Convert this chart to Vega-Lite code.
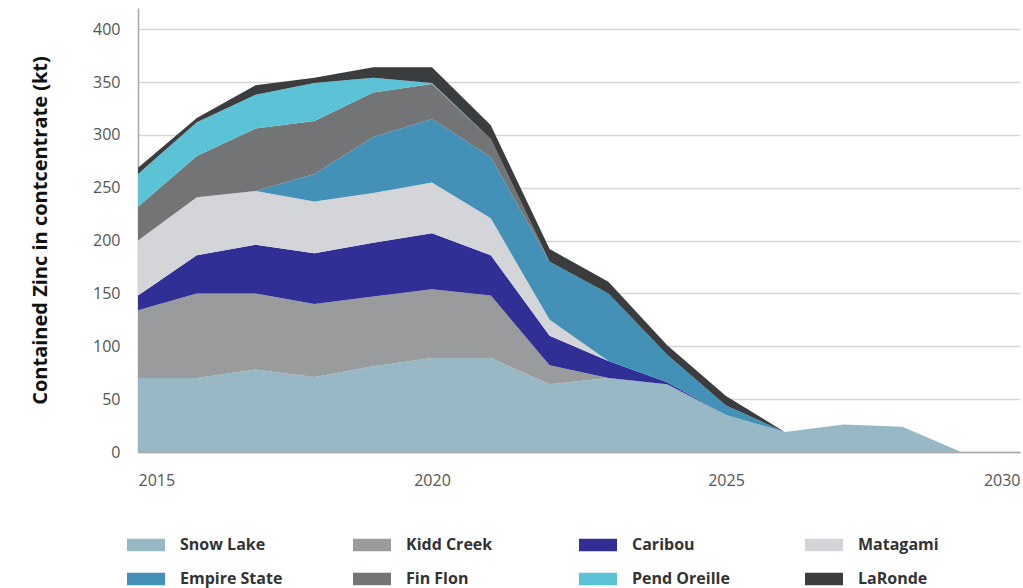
{
  "$schema": "https://vega.github.io/schema/vega-lite/v6.json",
  "width": 882,
  "height": 444,
  "autosize": "none",
  "padding": {"left": 138, "top": 8, "right": 3, "bottom": 136},
  "background": "white",
  "data": {
    "values": [
      {"mine": "Snow Lake", "rank": 1, "year": 2015, "kt": 70},
      {"mine": "Snow Lake", "rank": 1, "year": 2016, "kt": 70},
      {"mine": "Snow Lake", "rank": 1, "year": 2017, "kt": 78},
      {"mine": "Snow Lake", "rank": 1, "year": 2018, "kt": 71},
      {"mine": "Snow Lake", "rank": 1, "year": 2019, "kt": 81},
      {"mine": "Snow Lake", "rank": 1, "year": 2020, "kt": 89},
      {"mine": "Snow Lake", "rank": 1, "year": 2021, "kt": 89},
      {"mine": "Snow Lake", "rank": 1, "year": 2022, "kt": 64},
      {"mine": "Snow Lake", "rank": 1, "year": 2023, "kt": 70},
      {"mine": "Snow Lake", "rank": 1, "year": 2024, "kt": 64},
      {"mine": "Snow Lake", "rank": 1, "year": 2025, "kt": 35},
      {"mine": "Snow Lake", "rank": 1, "year": 2026, "kt": 19},
      {"mine": "Snow Lake", "rank": 1, "year": 2027, "kt": 26},
      {"mine": "Snow Lake", "rank": 1, "year": 2028, "kt": 24},
      {"mine": "Snow Lake", "rank": 1, "year": 2029, "kt": 0},
      {"mine": "Snow Lake", "rank": 1, "year": 2030, "kt": 0},

      {"mine": "Kidd Creek", "rank": 2, "year": 2015, "kt": 64},
      {"mine": "Kidd Creek", "rank": 2, "year": 2016, "kt": 80},
      {"mine": "Kidd Creek", "rank": 2, "year": 2017, "kt": 72},
      {"mine": "Kidd Creek", "rank": 2, "year": 2018, "kt": 69},
      {"mine": "Kidd Creek", "rank": 2, "year": 2019, "kt": 66},
      {"mine": "Kidd Creek", "rank": 2, "year": 2020, "kt": 65},
      {"mine": "Kidd Creek", "rank": 2, "year": 2021, "kt": 59},
      {"mine": "Kidd Creek", "rank": 2, "year": 2022, "kt": 18},
      {"mine": "Kidd Creek", "rank": 2, "year": 2023, "kt": 0},
      {"mine": "Kidd Creek", "rank": 2, "year": 2024, "kt": 0},
      {"mine": "Kidd Creek", "rank": 2, "year": 2025, "kt": 0},
      {"mine": "Kidd Creek", "rank": 2, "year": 2026, "kt": 0},
      {"mine": "Kidd Creek", "rank": 2, "year": 2027, "kt": 0},
      {"mine": "Kidd Creek", "rank": 2, "year": 2028, "kt": 0},
      {"mine": "Kidd Creek", "rank": 2, "year": 2029, "kt": 0},
      {"mine": "Kidd Creek", "rank": 2, "year": 2030, "kt": 0},

      {"mine": "Caribou", "rank": 3, "year": 2015, "kt": 14},
      {"mine": "Caribou", "rank": 3, "year": 2016, "kt": 36},
      {"mine": "Caribou", "rank": 3, "year": 2017, "kt": 46},
      {"mine": "Caribou", "rank": 3, "year": 2018, "kt": 48},
      {"mine": "Caribou", "rank": 3, "year": 2019, "kt": 51},
      {"mine": "Caribou", "rank": 3, "year": 2020, "kt": 53},
      {"mine": "Caribou", "rank": 3, "year": 2021, "kt": 38},
      {"mine": "Caribou", "rank": 3, "year": 2022, "kt": 28},
      {"mine": "Caribou", "rank": 3, "year": 2023, "kt": 16},
      {"mine": "Caribou", "rank": 3, "year": 2024, "kt": 2},
      {"mine": "Caribou", "rank": 3, "year": 2025, "kt": 0},
      {"mine": "Caribou", "rank": 3, "year": 2026, "kt": 0},
      {"mine": "Caribou", "rank": 3, "year": 2027, "kt": 0},
      {"mine": "Caribou", "rank": 3, "year": 2028, "kt": 0},
      {"mine": "Caribou", "rank": 3, "year": 2029, "kt": 0},
      {"mine": "Caribou", "rank": 3, "year": 2030, "kt": 0},

      {"mine": "Matagami", "rank": 4, "year": 2015, "kt": 52},
      {"mine": "Matagami", "rank": 4, "year": 2016, "kt": 55},
      {"mine": "Matagami", "rank": 4, "year": 2017, "kt": 51},
      {"mine": "Matagami", "rank": 4, "year": 2018, "kt": 49},
      {"mine": "Matagami", "rank": 4, "year": 2019, "kt": 47},
      {"mine": "Matagami", "rank": 4, "year": 2020, "kt": 48},
      {"mine": "Matagami", "rank": 4, "year": 2021, "kt": 35},
      {"mine": "Matagami", "rank": 4, "year": 2022, "kt": 15},
      {"mine": "Matagami", "rank": 4, "year": 2023, "kt": 0},
      {"mine": "Matagami", "rank": 4, "year": 2024, "kt": 0},
      {"mine": "Matagami", "rank": 4, "year": 2025, "kt": 0},
      {"mine": "Matagami", "rank": 4, "year": 2026, "kt": 0},
      {"mine": "Matagami", "rank": 4, "year": 2027, "kt": 0},
      {"mine": "Matagami", "rank": 4, "year": 2028, "kt": 0},
      {"mine": "Matagami", "rank": 4, "year": 2029, "kt": 0},
      {"mine": "Matagami", "rank": 4, "year": 2030, "kt": 0},

      {"mine": "Empire State", "rank": 5, "year": 2015, "kt": 0},
      {"mine": "Empire State", "rank": 5, "year": 2016, "kt": 0},
      {"mine": "Empire State", "rank": 5, "year": 2017, "kt": 0},
      {"mine": "Empire State", "rank": 5, "year": 2018, "kt": 26},
      {"mine": "Empire State", "rank": 5, "year": 2019, "kt": 53},
      {"mine": "Empire State", "rank": 5, "year": 2020, "kt": 60},
      {"mine": "Empire State", "rank": 5, "year": 2021, "kt": 58},
      {"mine": "Empire State", "rank": 5, "year": 2022, "kt": 55},
      {"mine": "Empire State", "rank": 5, "year": 2023, "kt": 64},
      {"mine": "Empire State", "rank": 5, "year": 2024, "kt": 26},
      {"mine": "Empire State", "rank": 5, "year": 2025, "kt": 9},
      {"mine": "Empire State", "rank": 5, "year": 2026, "kt": 0},
      {"mine": "Empire State", "rank": 5, "year": 2027, "kt": 0},
      {"mine": "Empire State", "rank": 5, "year": 2028, "kt": 0},
      {"mine": "Empire State", "rank": 5, "year": 2029, "kt": 0},
      {"mine": "Empire State", "rank": 5, "year": 2030, "kt": 0},

      {"mine": "Fin Flon", "rank": 6, "year": 2015, "kt": 32},
      {"mine": "Fin Flon", "rank": 6, "year": 2016, "kt": 39},
      {"mine": "Fin Flon", "rank": 6, "year": 2017, "kt": 59},
      {"mine": "Fin Flon", "rank": 6, "year": 2018, "kt": 50},
      {"mine": "Fin Flon", "rank": 6, "year": 2019, "kt": 42},
      {"mine": "Fin Flon", "rank": 6, "year": 2020, "kt": 33},
      {"mine": "Fin Flon", "rank": 6, "year": 2021, "kt": 17},
      {"mine": "Fin Flon", "rank": 6, "year": 2022, "kt": 0},
      {"mine": "Fin Flon", "rank": 6, "year": 2023, "kt": 0},
      {"mine": "Fin Flon", "rank": 6, "year": 2024, "kt": 0},
      {"mine": "Fin Flon", "rank": 6, "year": 2025, "kt": 0},
      {"mine": "Fin Flon", "rank": 6, "year": 2026, "kt": 0},
      {"mine": "Fin Flon", "rank": 6, "year": 2027, "kt": 0},
      {"mine": "Fin Flon", "rank": 6, "year": 2028, "kt": 0},
      {"mine": "Fin Flon", "rank": 6, "year": 2029, "kt": 0},
      {"mine": "Fin Flon", "rank": 6, "year": 2030, "kt": 0},

      {"mine": "Pend Oreille", "rank": 7, "year": 2015, "kt": 31},
      {"mine": "Pend Oreille", "rank": 7, "year": 2016, "kt": 32},
      {"mine": "Pend Oreille", "rank": 7, "year": 2017, "kt": 32},
      {"mine": "Pend Oreille", "rank": 7, "year": 2018, "kt": 36},
      {"mine": "Pend Oreille", "rank": 7, "year": 2019, "kt": 14},
      {"mine": "Pend Oreille", "rank": 7, "year": 2020, "kt": 1},
      {"mine": "Pend Oreille", "rank": 7, "year": 2021, "kt": 0},
      {"mine": "Pend Oreille", "rank": 7, "year": 2022, "kt": 0},
      {"mine": "Pend Oreille", "rank": 7, "year": 2023, "kt": 0},
      {"mine": "Pend Oreille", "rank": 7, "year": 2024, "kt": 0},
      {"mine": "Pend Oreille", "rank": 7, "year": 2025, "kt": 0},
      {"mine": "Pend Oreille", "rank": 7, "year": 2026, "kt": 0},
      {"mine": "Pend Oreille", "rank": 7, "year": 2027, "kt": 0},
      {"mine": "Pend Oreille", "rank": 7, "year": 2028, "kt": 0},
      {"mine": "Pend Oreille", "rank": 7, "year": 2029, "kt": 0},
      {"mine": "Pend Oreille", "rank": 7, "year": 2030, "kt": 0},

      {"mine": "LaRonde", "rank": 8, "year": 2015, "kt": 6},
      {"mine": "LaRonde", "rank": 8, "year": 2016, "kt": 4},
      {"mine": "LaRonde", "rank": 8, "year": 2017, "kt": 9},
      {"mine": "LaRonde", "rank": 8, "year": 2018, "kt": 5},
      {"mine": "LaRonde", "rank": 8, "year": 2019, "kt": 10},
      {"mine": "LaRonde", "rank": 8, "year": 2020, "kt": 15},
      {"mine": "LaRonde", "rank": 8, "year": 2021, "kt": 13},
      {"mine": "LaRonde", "rank": 8, "year": 2022, "kt": 12},
      {"mine": "LaRonde", "rank": 8, "year": 2023, "kt": 11},
      {"mine": "LaRonde", "rank": 8, "year": 2024, "kt": 9},
      {"mine": "LaRonde", "rank": 8, "year": 2025, "kt": 9},
      {"mine": "LaRonde", "rank": 8, "year": 2026, "kt": 0},
      {"mine": "LaRonde", "rank": 8, "year": 2027, "kt": 0},
      {"mine": "LaRonde", "rank": 8, "year": 2028, "kt": 0},
      {"mine": "LaRonde", "rank": 8, "year": 2029, "kt": 0},
      {"mine": "LaRonde", "rank": 8, "year": 2030, "kt": 0}
    ]
  },
  "mark": {"type": "area", "interpolate": "linear", "opacity": 1},
  "encoding": {
    "x": {
      "field": "year",
      "type": "quantitative",
      "scale": {"domain": [2015, 2030], "nice": false, "zero": false},
      "axis": {
        "values": [2015, 2020, 2025, 2030],
        "format": "d",
        "title": null,
        "grid": false,
        "ticks": false,
        "domain": true,
        "domainColor": "#a8a8a8",
        "domainWidth": 1.5,
        "labelFlush": true,
        "labelPadding": 20,
        "labelFont": "Open Sans",
        "labelFontSize": 16,
        "labelColor": "#555555"
      }
    },
    "y": {
      "field": "kt",
      "type": "quantitative",
      "stack": "zero",
      "scale": {"domain": [0, 420], "nice": false},
      "axis": {
        "values": [0, 50, 100, 150, 200, 250, 300, 350, 400],
        "title": "Contained Zinc in contcentrate (kt)",
        "titleFont": "Open Sans",
        "titleFontSize": 20,
        "titleFontWeight": "bold",
        "titleColor": "#111111",
        "titlePadding": 42,
        "grid": true,
        "gridColor": "#d6d6d6",
        "gridWidth": 1.5,
        "ticks": false,
        "domain": true,
        "domainColor": "#a8a8a8",
        "domainWidth": 1.5,
        "labelPadding": 18,
        "labelFont": "Open Sans",
        "labelFontSize": 16,
        "labelColor": "#555555"
      }
    },
    "color": {
      "field": "mine",
      "type": "nominal",
      "scale": {
        "domain": ["Snow Lake", "Kidd Creek", "Caribou", "Matagami", "Empire State", "Fin Flon", "Pend Oreille", "LaRonde"],
        "range": ["#99b8c5", "#9a9b9c", "#2f2f96", "#d4d5d8", "#4391b7", "#727476", "#5cc3d6", "#3b3c3e"]
      },
      "legend": {
        "title": null,
        "orient": "none",
        "legendX": -11,
        "legendY": 518,
        "direction": "horizontal",
        "columns": 4,
        "gridAlign": "all",
        "columnPadding": 70,
        "rowPadding": 7,
        "symbolType": "M-1,-0.33L1,-0.33L1,0.33L-1,0.33Z",
        "symbolSize": 1444,
        "symbolStrokeWidth": 0,
        "symbolOpacity": 1,
        "labelOffset": 15,
        "labelFont": "Open Sans",
        "labelFontSize": 16,
        "labelFontWeight": "bold",
        "labelColor": "#333333"
      }
    },
    "order": {"field": "rank", "type": "quantitative", "sort": "ascending"}
  },
  "config": {"view": {"stroke": null}}
}
